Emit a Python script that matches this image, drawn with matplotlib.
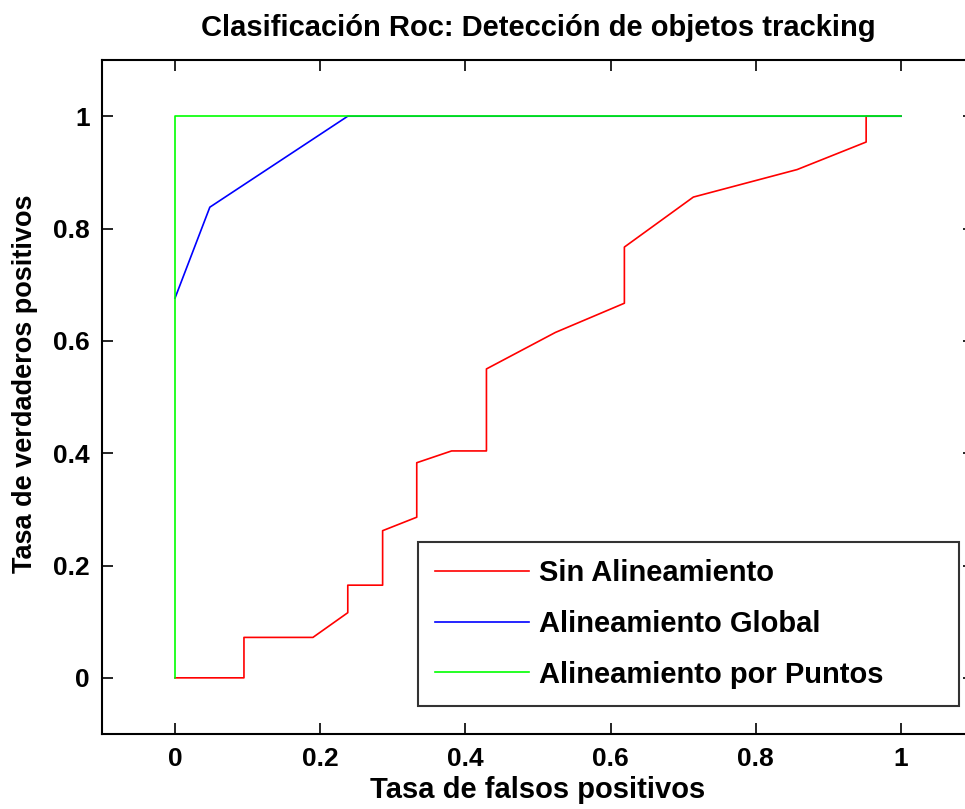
import matplotlib
matplotlib.use("Agg")
import matplotlib.pyplot as plt

# ROC data
fpr_sin = [0.0, 0.095, 0.095, 0.190, 0.238, 0.238, 0.286, 0.286, 0.333, 0.333,
           0.381, 0.429, 0.429, 0.524, 0.619, 0.619, 0.714, 0.857, 0.952, 0.952, 1.0]
tpr_sin = [0.0, 0.0, 0.072, 0.072, 0.116, 0.165, 0.165, 0.262, 0.286, 0.383,
           0.404, 0.404, 0.550, 0.615, 0.667, 0.767, 0.856, 0.905, 0.954, 1.0, 1.0]

fpr_glob = [0.0, 0.048, 0.238, 1.0]
tpr_glob = [0.676, 0.838, 1.0, 1.0]

fpr_pts = [0.0, 0.0, 1.0]
tpr_pts = [0.0, 1.0, 1.0]

labels = ["Sin Alineamiento", "Alineamiento Global", "Alineamiento por Puntos"]
ticks = [0, 0.2, 0.4, 0.6, 0.8, 1]
tick_labels = ["0", "0.2", "0.4", "0.6", "0.8", "1"]

plt.rcParams['font.family'] = ['Liberation Sans', 'DejaVu Sans']
plt.rcParams['font.weight'] = 'bold'

fig = plt.figure(figsize=(9.65, 8.09), dpi=100)
ax = fig.add_axes([0.1061, 0.0927, 0.9028, 0.8331])

ax.plot(fpr_sin, tpr_sin, color='#ff0000', lw=1.2, label=labels[0])
ax.plot(fpr_glob, tpr_glob, color='#0000ff', lw=1.2, label=labels[1])
ax.plot(fpr_pts, tpr_pts, color='#00ff00', lw=1.2, label=labels[2])

ax.set_xlim(-0.1, 1.1)
ax.set_ylim(-0.1, 1.1)
ax.set_xticks(ticks)
ax.set_xticklabels(tick_labels)
ax.set_yticks(ticks)
ax.set_yticklabels(tick_labels)
ax.tick_params(direction='in', length=8, width=1.2, top=True, right=True,
               labelsize=19, pad=9)
for s in ax.spines.values():
    s.set_linewidth(1.5)

ax.set_title("Clasificación Roc: Detección de objetos tracking",
             fontsize=21, fontweight='bold', pad=17)
ax.set_xlabel("Tasa de falsos positivos", fontsize=21, fontweight='bold', labelpad=4)
ax.set_ylabel("Tasa de verdaderos positivos", fontsize=19.5, fontweight='bold')
ax.yaxis.set_label_coords(-0.0735, 0.519)

# MATLAB-style legend box, wider than its contents
leg = ax.legend(loc='lower left', bbox_to_anchor=(0.362, 0.0415, 0.621, 0.24),
                mode='expand', fontsize=21, frameon=True, fancybox=False,
                handlelength=3.2, handletextpad=0.35, labelspacing=0.78,
                borderpad=0.6, borderaxespad=0)
leg.get_frame().set_edgecolor('black')
leg.get_frame().set_linewidth(1.5)

fig.savefig("out.png", dpi=100)
